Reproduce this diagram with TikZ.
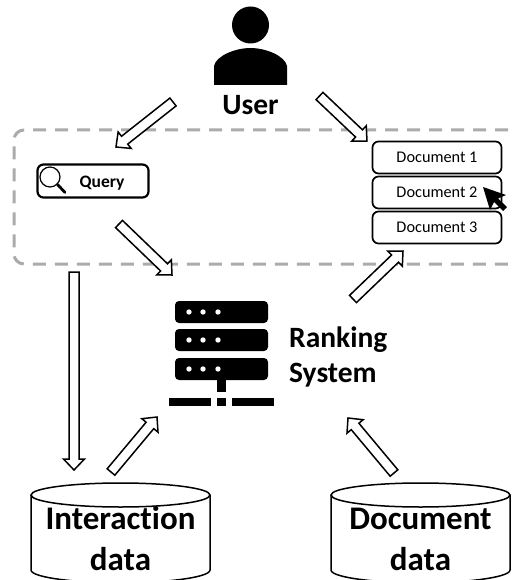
\documentclass[tikz,border=0pt]{standalone}
\usepackage{fontspec}
\setmainfont[Ligatures=NoCommon]{Carlito}
\usetikzlibrary{calc}
\tikzset{
  blockarrow/.style={draw=black,fill=white,line width=1.5pt,line join=miter},
  docbox/.style={draw=black,fill=white,line width=1.7pt,rounded corners=6pt,minimum width=129pt,minimum height=32pt,inner sep=0pt,font=\fontsize{16.3}{18}\selectfont},
  querybox/.style={draw=black,fill=white,line width=2.2pt,rounded corners=6pt,minimum width=111pt,minimum height=33pt,inner sep=0pt},
  biglabel/.style={font=\fontsize{29.5}{32}\selectfont\bfseries,inner sep=0pt,anchor=base},
  dblabel/.style={font=\fontsize{33}{38}\selectfont\bfseries,inner sep=0pt,anchor=base},
  dashbox/.style={draw=black!33,line width=3pt,dash pattern=on 13pt off 9pt,rounded corners=10pt},
  dbshape/.style={draw=black,fill=white,line width=1.5pt},
  solidblack/.style={fill=black,draw=none}
}
% tail, tip: shaft half-width 5, head half-width 10.5, head length 11
\newcommand{\blockarrow}[2]{%
  \path ($(#2)!11pt!(#1)$) coordinate (hb);
  \draw[blockarrow]
    ($(#1)!5pt!90:(#2)$) -- ($(hb)!5pt!-90:(#1)$) -- ($(hb)!10.5pt!-90:(#1)$) -- (#2)
    -- ($(hb)!10.5pt!90:(#1)$) -- ($(hb)!5pt!90:(#1)$) -- ($(#1)!5pt!-90:(#2)$) -- cycle;
}
\newcommand{\dbcyl}[2]{% left x, right x
  \draw[dbshape] (#1,495) -- (#1,570) .. controls (#1,578) and ({(#1+#2)/2-40},583) .. ({(#1+#2)/2},583)
     .. controls ({(#1+#2)/2+40},583) and (#2,578) .. (#2,570) -- (#2,495);
  \draw[dbshape] ({(#1+#2)/2},495) ellipse [x radius={(#2-#1)/2},y radius=12];
}
\begin{document}
\begin{tikzpicture}[x=1pt,y=-1pt]
\useasboundingbox (0,0) rectangle (515,580);
\clip (0,0) rectangle (515,580);
% dashed region
\draw[dashbox] (530,130) -- (14,130) -- (14,264) -- (530,264);
% user icon
\fill[solidblack] (250.5,25) circle (18.5);
\fill[solidblack] (214,85) -- (214,66) .. controls (216,56) and (235,48) .. (250.5,48)
   .. controls (266,48) and (285,56) .. (287,66) -- (287,85) -- cycle;
\node[biglabel] (user) at (250.5,115) {User};
% query
\node[querybox] (query) at (93,181) {};
\node[inner sep=0pt,anchor=base,font=\fontsize{17.5}{20}\selectfont\bfseries] (querytext) at (102,187) {Query};
\draw[line width=1.2pt] (50,177) circle (10);
\draw[line width=2.8pt,line cap=round] (57.5,184.5) -- (65,192.5);
% documents
\node[docbox] (doc1) at (437,157.5) {Document 1};
\node[docbox] (doc2) at (437,192.5) {Document 2};
\node[docbox] (doc3) at (437,227.5) {Document 3};
% cursor
\fill[solidblack] (483,187) -- (506,195) -- (498,198.5) -- (507,207) -- (503,211) -- (494,202) -- (490,210) -- cycle;
% server
\foreach \t/\b in {301/323,329/351,358/380}{
  \fill[solidblack,rounded corners=4pt] (175,\t) rectangle (268,\b);
  \foreach \x in {189,203,218}{ \fill[white] (\x,{(\t+\b)/2}) circle (2.7); }
}
\fill[solidblack] (217,380) rectangle (226,392);
\fill[solidblack] (169,398) rectangle (211,406);
\fill[solidblack] (217,398) rectangle (226,406);
\fill[solidblack] (232,398) rectangle (274,406);
\node[biglabel,anchor=base west] (ranking) at (289,347) {Ranking};
\node[biglabel,anchor=base west] (system) at (289,382) {System};
% databases
\dbcyl{31}{210}
\dbcyl{331}{510}
\node[dblabel] (inter) at (120.5,529) {Interaction};
\node[dblabel] (interd) at (120.5,570) {data};
\node[dblabel] (docu) at (420.5,529) {Document};
\node[dblabel] (docud) at (420.5,570) {data};
% block arrows
\coordinate (a1t) at (173,102);  \coordinate (a1h) at (116,147);
\coordinate (a2t) at (319.5,96); \coordinate (a2h) at (367,141);
\coordinate (a3t) at (119,224);  \coordinate (a3h) at (172,275);
\coordinate (a4t) at (353,299);  \coordinate (a4h) at (403,251);
\coordinate (a5t) at (74,272);   \coordinate (a5h) at (74,470);
\coordinate (a6t) at (111,472);  \coordinate (a6h) at (157,417);
\coordinate (a7t) at (394,473);  \coordinate (a7h) at (348,418);
\blockarrow{a1t}{a1h}
\blockarrow{a2t}{a2h}
\blockarrow{a3t}{a3h}
\blockarrow{a4t}{a4h}
\blockarrow{a5t}{a5h}
\blockarrow{a6t}{a6h}
\blockarrow{a7t}{a7h}
\end{tikzpicture}
\end{document}
